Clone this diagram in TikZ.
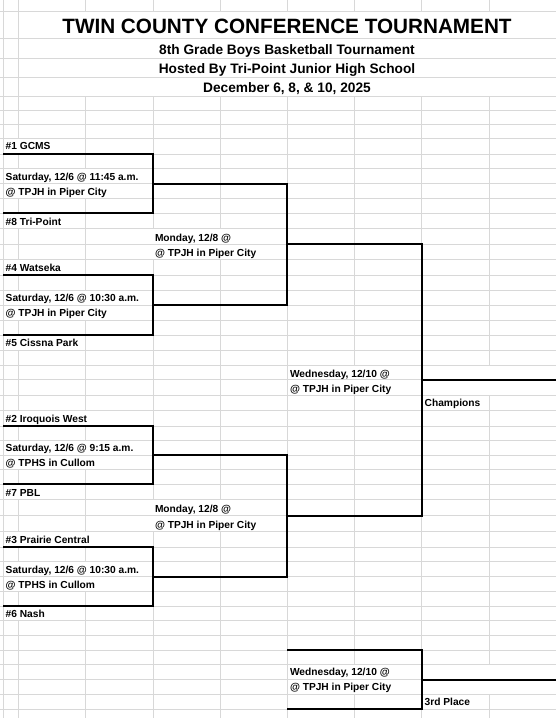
\documentclass[tikz,border=0pt]{standalone}
\usepackage{fontspec}
\setmainfont{Liberation Sans}
\definecolor{gridgray}{RGB}{216,216,216}
\newcommand\hidecells[4]{\fill[white] ({#1+0.5},{#3+0.5}) rectangle ({#2-0.5},{#4-0.5});}
\begin{document}
\begin{tikzpicture}[x=1pt,y=-1pt,
  gridline/.style={draw=gridgray, line width=0.7pt},
  bline/.style={draw=black, line width=2pt, line join=miter},
  lbl/.style={anchor=base west, inner sep=0pt, font=\bfseries\fontsize{10.2}{12}\selectfont},
  ttl/.style={anchor=base, inner sep=0pt, font=\bfseries\fontsize{20.7}{24}\selectfont},
  subttl/.style={anchor=base, inner sep=0pt, font=\bfseries\fontsize{13.7}{16}\selectfont}]
\useasboundingbox (0,0) rectangle (556,718);
\fill[white] (0,0) rectangle (556,718);
% grid
\foreach \y in {11.7,38.3,58.3,77.3,96.7,110,124,138.3,154,168.75,183.5,198.25,213,228.5,244,259.5,275,290,305,320,335,350,365,379.5,395.3,410.8,426,440.5,455,469.5,484,499.75,515.5,531.25,547,561.75,576.5,591.25,606,620.7,635.3,650,664.75,679.5,694.25,709}
  \draw[gridline] (0,\y) -- (556,\y);
\foreach \x in {3.3,18.3} \draw[gridline] (\x,0) -- (\x,718);
\foreach \x in {85.7,152.9,220.1,287.3,354.5,421.7,488.9} {
  \draw[gridline] (\x,0) -- (\x,11.7);
  \draw[gridline] (\x,96.7) -- (\x,718);}
% gridlines hidden under overflowing text
\hidecells{3.3}{85.7}{138.3}{154}
\hidecells{3.3}{152.9}{168.75}{183.5}
\hidecells{3.3}{152.9}{183.5}{198.25}
\hidecells{3.3}{85.7}{213}{228.5}
\hidecells{152.9}{287.3}{228.5}{244}
\hidecells{152.9}{287.3}{244}{259.5}
\hidecells{3.3}{85.7}{259.5}{275}
\hidecells{3.3}{152.9}{290}{305}
\hidecells{3.3}{152.9}{305}{320}
\hidecells{3.3}{85.7}{335}{350}
\hidecells{287.3}{421.7}{365}{379.5}
\hidecells{287.3}{421.7}{379.5}{395.3}
\hidecells{421.7}{556}{365}{379.5}
\hidecells{421.7}{556}{379.5}{395.3}
\hidecells{3.3}{152.9}{410.8}{426}
\hidecells{3.3}{152.9}{440.5}{455}
\hidecells{3.3}{152.9}{455}{469.5}
\hidecells{3.3}{85.7}{484}{499.75}
\hidecells{152.9}{287.3}{499.75}{515.5}
\hidecells{152.9}{287.3}{515.5}{531.25}
\hidecells{3.3}{152.9}{531.25}{547}
\hidecells{3.3}{152.9}{561.75}{576.5}
\hidecells{3.3}{152.9}{576.5}{591.25}
\hidecells{3.3}{85.7}{606}{620.7}
\hidecells{287.3}{421.7}{664.75}{679.5}
\hidecells{287.3}{421.7}{679.5}{694.25}
\hidecells{421.7}{556}{664.75}{679.5}
\hidecells{421.7}{556}{679.5}{694.25}
% title
\node[ttl] (title) at (287,33.3) {TWIN COUNTY CONFERENCE TOURNAMENT};
\node[subttl] (sub1) at (287,54) {8th Grade Boys Basketball Tournament};
\node[subttl] (sub2) at (287,73) {Hosted By Tri-Point Junior High School};
\node[subttl] (sub3) at (287,92.3) {December 6, 8, \& 10, 2025};
% brackets
\draw[bline] (3.3,154) -- (152.9,154) -- (152.9,213) -- (3.3,213);
\draw[bline] (3.3,275) -- (152.9,275) -- (152.9,335) -- (3.3,335);
\draw[bline] (152.9,183.5) -- (287.3,183.5) -- (287.3,305) -- (152.9,305);
\draw[bline] (3.3,426) -- (152.9,426) -- (152.9,484) -- (3.3,484);
\draw[bline] (3.3,547) -- (152.9,547) -- (152.9,606) -- (3.3,606);
\draw[bline] (152.9,455) -- (287.3,455) -- (287.3,576.5) -- (152.9,576.5);
\draw[bline] (287.3,244) -- (421.7,244) -- (421.7,515.5) -- (287.3,515.5);
\draw[bline] (421.7,379.5) -- (556,379.5);
\draw[bline] (287.3,650) -- (421.7,650) -- (421.7,709) -- (287.3,709);
\draw[bline] (421.7,679.5) -- (556,679.5);
% labels
\node[lbl] (t1) at (5.5,149.6) {\#1 GCMS};
\node[lbl] (g1a) at (5.5,180) {Saturday, 12/6 @ 11:45 a.m.};
\node[lbl] (g1b) at (5.5,195) {@ TPJH in Piper City};
\node[lbl] (t8) at (5.5,225) {\#8 Tri-Point};
\node[lbl] (m1a) at (154.8,241.5) {Monday, 12/8 @};
\node[lbl] (m1b) at (154.8,256.7) {@ TPJH in Piper City};
\node[lbl] (t4) at (5.5,271) {\#4 Watseka};
\node[lbl] (g2a) at (5.5,301) {Saturday, 12/6 @ 10:30 a.m.};
\node[lbl] (g2b) at (5.5,316) {@ TPJH in Piper City};
\node[lbl] (t5) at (5.5,346.7) {\#5 Cissna Park};
\node[lbl] (w1a) at (289.8,377) {Wednesday, 12/10 @};
\node[lbl] (w1b) at (289.8,392) {@ TPJH in Piper City};
\node[lbl] (champ) at (424.5,406.5) {Champions};
\node[lbl] (t2) at (5.5,422) {\#2 Iroquois West};
\node[lbl] (g3a) at (5.5,451.7) {Saturday, 12/6 @ 9:15 a.m.};
\node[lbl] (g3b) at (5.5,466) {@ TPHS in Cullom};
\node[lbl] (t7) at (5.5,496.5) {\#7 PBL};
\node[lbl] (m2a) at (154.8,512) {Monday, 12/8 @};
\node[lbl] (m2b) at (154.8,528) {@ TPJH in Piper City};
\node[lbl] (t3) at (5.5,543) {\#3 Prairie Central};
\node[lbl] (g4a) at (5.5,573) {Saturday, 12/6 @ 10:30 a.m.};
\node[lbl] (g4b) at (5.5,588) {@ TPHS in Cullom};
\node[lbl] (t6) at (5.5,617.3) {\#6 Nash};
\node[lbl] (w2a) at (289.8,675.5) {Wednesday, 12/10 @};
\node[lbl] (w2b) at (289.8,690.5) {@ TPJH in Piper City};
\node[lbl] (third) at (424.5,705.5) {3rd Place};
\end{tikzpicture}
\end{document}
